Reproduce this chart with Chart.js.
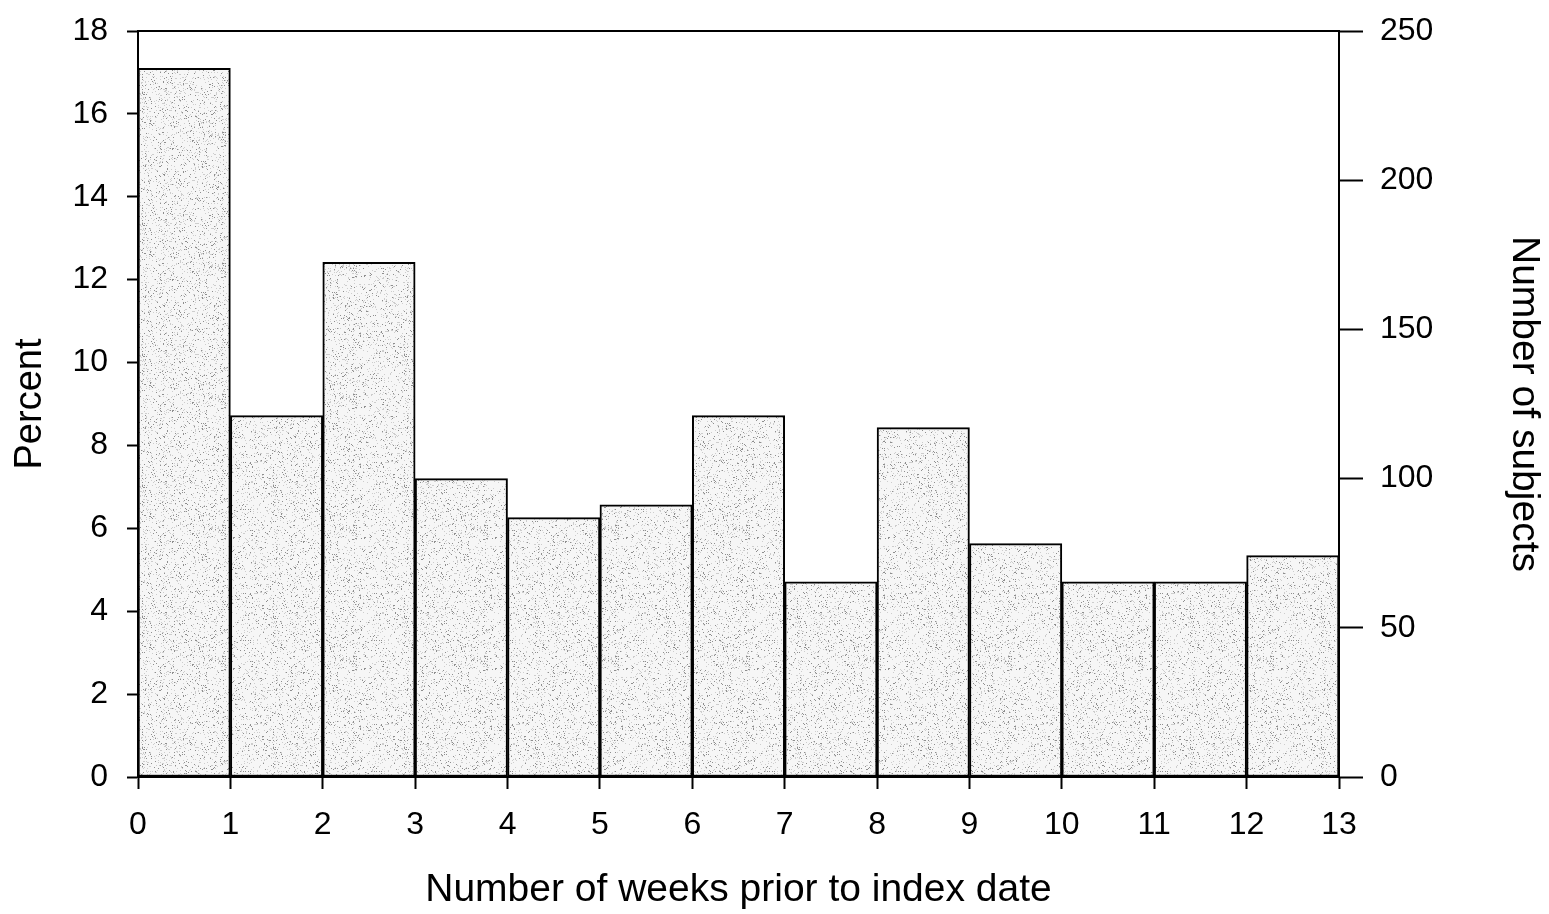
<!DOCTYPE html>
<html>
<head>
<meta charset="utf-8">
<title>Weeks prior to index date</title>
<script src="https://cdn.jsdelivr.net/npm/chart.js@4/dist/chart.umd.min.js"></script>
<style>
  html, body { margin: 0; padding: 0; background: #fff; }
  #wrap { width: 1549px; height: 914px; }
</style>
</head>
<body>
<div id="wrap"><canvas id="histChart" width="1549" height="914"></canvas></div>
<script>
// bins: week i .. i+1
var weekStarts = [0, 1, 2, 3, 4, 5, 6, 7, 8, 9, 10, 11, 12];
var percentValues = [17.1, 8.72, 12.42, 7.2, 6.26, 6.57, 8.72, 4.71, 8.43, 5.63, 4.71, 4.71, 5.34];
var weekTicks = [0, 1, 2, 3, 4, 5, 6, 7, 8, 9, 10, 11, 12, 13];
var percentTicks = [0, 2, 4, 6, 8, 10, 12, 14, 16, 18];
var subjectTicks = [0, 50, 100, 150, 200, 250];

var FONT = "'Liberation Sans', Arial, sans-serif";

// stippled grey fill like the printed original (fixed hash, no randomness)
function stipple() {
  var n = 131;
  var c = document.createElement('canvas');
  c.width = n; c.height = n;
  var g = c.getContext('2d');
  g.fillStyle = '#f6f6f6';
  g.fillRect(0, 0, n, n);
  for (var y = 0; y < n; y++) {
    for (var x = 0; x < n; x++) {
      var h = (Math.imul(x, 374761393) + Math.imul(y, 668265263)) | 0;
      h = Math.imul(h ^ (h >>> 13), 1274126177);
      h = ((h ^ (h >>> 16)) >>> 0) % 1000;
      if (h < 45) { g.fillStyle = '#8e8e8e'; g.fillRect(x, y, 1, 1); }
      else if (h < 125) { g.fillStyle = '#cdcdcd'; g.fillRect(x, y, 1, 1); }
    }
  }
  return g.createPattern(c, 'repeat');
}

var topLine = {
  id: 'topLine',
  afterDraw: function (chart) {
    var a = chart.chartArea, ctx = chart.ctx;
    ctx.save();
    ctx.strokeStyle = '#000';
    ctx.lineWidth = 2;
    ctx.beginPath();
    ctx.moveTo(a.left, a.top);
    ctx.lineTo(a.right, a.top);
    ctx.stroke();
    ctx.restore();
  }
};

function fixedTicks(list) {
  return function (scale) {
    scale.ticks = list.map(function (v) { return { value: v }; });
  };
}

// fixed box sizes so the plot area lands where the original has it
function fitWidth(w) {
  return function (s) { s.width = w; s.paddingTop = 0; s.paddingBottom = 0; };
}

var ctx = document.getElementById('histChart').getContext('2d');
var histChart = new Chart(ctx, {
  type: 'bar',
  data: {
    datasets: [{
      data: weekStarts.map(function (w, i) { return { x: w + 0.5, y: percentValues[i] }; }),
      backgroundColor: stipple(),
      borderColor: '#000',
      borderWidth: 2,
      borderSkipped: false,
      barPercentage: 1,
      categoryPercentage: 1,
      yAxisID: 'y'
    }]
  },
  options: {
    responsive: false,
    animation: false,
    layout: { padding: { top: 31, left: 0, right: 0, bottom: 0 } },
    plugins: { legend: { display: false }, tooltip: { enabled: false } },
    scales: {
      x: {
        type: 'linear',
        min: 0, max: 13,
        offset: false,
        afterBuildTicks: fixedTicks(weekTicks),
        afterFit: function (s) { s.height = 137; s.paddingLeft = 0; s.paddingRight = 0; },
        grid: { offset: false, drawOnChartArea: false, drawTicks: true, tickLength: 12, tickColor: '#000', tickWidth: 2 },
        border: { display: true, color: '#000', width: 2 },
        ticks: { color: '#000', font: { family: FONT, size: 32 }, padding: 17, maxRotation: 0 },
        title: { display: true, text: 'Number of weeks prior to index date', color: '#000', font: { family: FONT, size: 39 }, padding: { top: 0, bottom: 0 } }
      },
      y: {
        position: 'left',
        min: 0, max: 18,
        afterBuildTicks: fixedTicks(percentTicks),
        afterFit: fitWidth(138),
        grid: { drawOnChartArea: false, drawTicks: true, tickLength: 11, tickColor: '#000', tickWidth: 2 },
        border: { display: true, color: '#000', width: 2 },
        ticks: { color: '#000', font: { family: FONT, size: 32 }, padding: 19 },
        title: { display: true, text: 'Percent', color: '#000', font: { family: FONT, size: 38 }, padding: { top: 8, bottom: 0 } }
      },
      y2: {
        position: 'right',
        min: 0, max: 250,
        afterBuildTicks: fixedTicks(subjectTicks),
        afterFit: fitWidth(210),
        grid: { drawOnChartArea: false, drawTicks: true, tickLength: 24, tickColor: '#000', tickWidth: 2 },
        border: { display: true, color: '#000', width: 2 },
        ticks: { color: '#000', font: { family: FONT, size: 32 }, padding: 17 },
        title: { display: true, text: 'Number of subjects', color: '#000', font: { family: FONT, size: 39 }, padding: { top: 2, bottom: 0 } }
      }
    }
  },
  plugins: [topLine]
});
</script>
</body>
</html>
